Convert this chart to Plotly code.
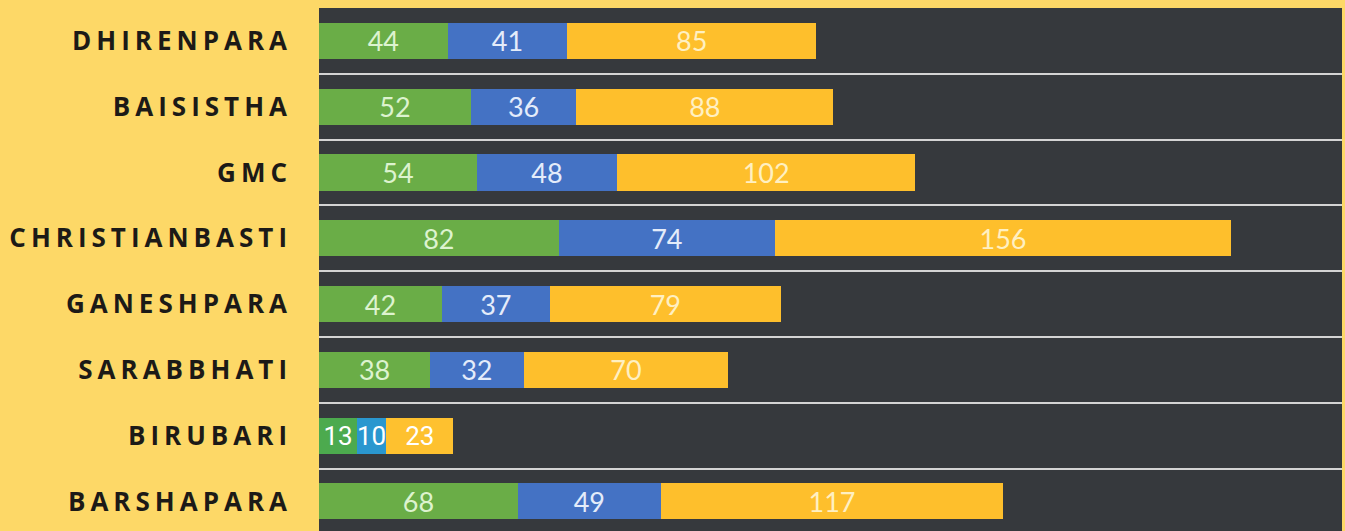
import plotly.graph_objects as go

categories = ["DHIRENPARA", "BAISISTHA", "GMC", "CHRISTIANBASTI",
              "GANESHPARA", "SARABBHATI", "BIRUBARI", "BARSHAPARA"]
green_vals = [44, 52, 54, 82, 42, 38, 13, 68]
blue_vals = [41, 36, 48, 74, 37, 32, 10, 49]
yellow_vals = [85, 88, 102, 156, 79, 70, 23, 117]

# styles
special = "BIRUBARI"
def per_cat(normal, alt):
    return [alt if c == special else normal for c in categories]

series = [
    (green_vals, per_cat("#6AAD47", "#4CAA4E"), per_cat("#DDF3CF", "#FFFFFF")),
    (blue_vals, per_cat("#4472C4", "#2A97CF"), per_cat("#E4ECFA", "#FFFFFF")),
    (yellow_vals, per_cat("#FEBF2C", "#FEC12F"), per_cat("#FFF0C2", "#FFFFFF")),
]

fig = go.Figure()
for vals, colors, tcolors in series:
    fig.add_trace(go.Bar(
        y=categories, x=vals, orientation="h",
        marker=dict(color=colors, line=dict(width=0)),
        width=0.55,
        text=[str(v) for v in vals],
        textposition="inside", insidetextanchor="middle",
        textangle=0, constraintext="none",
        textfont=dict(color=tcolors,
                      size=per_cat(27, 26),
                      family=per_cat("Lato", "Roboto")),
        hoverinfo="skip",
    ))

fig.update_layout(
    barmode="stack",
    width=1345, height=531,
    margin=dict(l=319, r=3, t=8, b=0),
    paper_bgcolor="#FDD867",
    plot_bgcolor="#36393D",
    showlegend=False,
    bargap=0.45,
    xaxis=dict(range=[0, 350], visible=False, showgrid=False, zeroline=False),
    yaxis=dict(
        range=[7.45, -0.5],
        tickson="boundaries",
        showgrid=True, gridcolor="#D4D4D4", gridwidth=2,
        ticks="", ticklabelstandoff=26,
        tickfont=dict(family="Open Sans", size=26, color="#1C1A17", weight=700),
        zeroline=False, showline=False,
    ),
)

js = """
document.body.style.margin='0';
document.body.style.overflow='hidden';
document.documentElement.style.overflow='hidden';
document.querySelectorAll('.ytick text').forEach(function(t){
  t.style.letterSpacing='5px';
});
"""
fig.write_html("out.html", post_script=js, config={"displayModeBar": False})
